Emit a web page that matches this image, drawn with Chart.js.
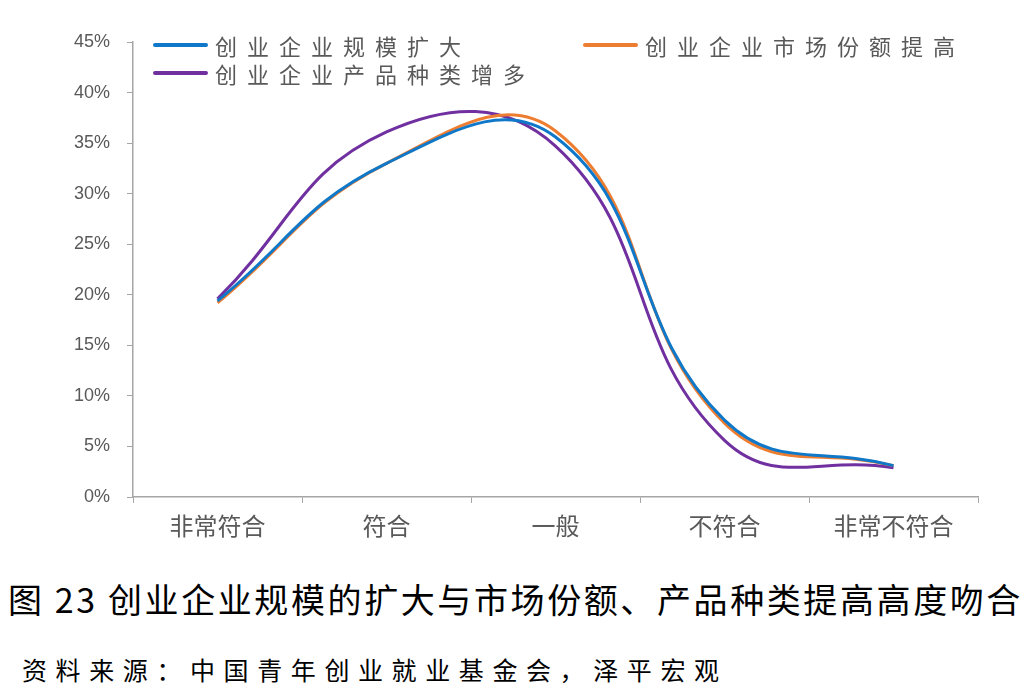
<!DOCTYPE html>
<html>
<head>
<meta charset="utf-8">
<script src="https://cdn.jsdelivr.net/npm/chart.js@4.4.1/dist/chart.umd.min.js"></script>
<style>
  body { margin: 0; background: #fff; width: 1028px; height: 700px; overflow: hidden; font-family: "Noto Sans CJK SC", sans-serif; }
  #wrap { position: absolute; left: 0; top: 0; width: 1028px; height: 560px; }
  .lg { position: absolute; height: 28px; display: flex; align-items: center; color: #595959; font-size: 22px; letter-spacing: 10px; white-space: nowrap; }
  .lg i { display: inline-block; width: 55px; height: 4px; margin-right: 7px; border-radius: 2px; }
  #title { position: absolute; left: 8px; top: 574px; font-size: 34px; color: #000; white-space: nowrap; letter-spacing: 2.6px; }
  #src { position: absolute; left: 22px; top: 651px; font-size: 25px; color: #000; white-space: nowrap; letter-spacing: 8.6px; }
</style>
</head>
<body>
<div id="wrap"><canvas id="c"></canvas></div>
<div id="legend"></div>
<div id="title">图 23 创业企业规模的扩大与市场份额、产品种类提高高度吻合</div>
<div id="src">资料来源：中国青年创业就业基金会，泽平宏观</div>
<script>
const categories = ['非常符合', '符合', '一般', '不符合', '非常不符合'];
const seriesNames = ['创业企业规模扩大', '创业企业市场份额提高', '创业企业产品种类增多'];
const scaleUp = [19.4, 33.0, 35.6, 7.6, 3.1];
const shareUp = [19.2, 33.0, 36.2, 7.3, 3.1];
const productUp = [19.6, 36.1, 34.7, 5.6, 2.9];
const yTicks = [0, 5, 10, 15, 20, 25, 30, 35, 40, 45];
const colors = ['#1078C8', '#ED7D31', '#7030A0'];

const gray = '#595959';
const axisGray = '#A6A6A6';

// legend overlay
const legendPos = [[153, 31], [583, 31], [153, 59]];
const legendBox = document.getElementById('legend');
seriesNames.forEach((name, i) => {
  const d = document.createElement('div');
  d.className = 'lg';
  d.style.left = legendPos[i][0] + 'px';
  d.style.top = legendPos[i][1] + 'px';
  d.innerHTML = `<i style="background:${colors[i]}"></i><span>${name}</span>`;
  legendBox.appendChild(d);
});

const ctx = document.getElementById('c').getContext('2d');
new Chart(ctx, {
  type: 'line',
  data: {
    labels: categories,
    datasets: [scaleUp, shareUp, productUp].map((vals, i) => ({
      label: seriesNames[i],
      data: vals,
      borderColor: colors[i],
      backgroundColor: colors[i],
      borderWidth: 3,
      pointRadius: 0,
      tension: 0.44,
      fill: false
    }))
  },
  options: {
    responsive: true,
    maintainAspectRatio: false,
    animation: false,
    layout: { padding: { top: 42, right: 50, left: 0, bottom: 0 } },
    plugins: { legend: { display: false }, tooltip: { enabled: false } },
    scales: {
      x: {
        offset: true,
        afterFit(s) { s.height = 63; },
        grid: { display: true, offset: true, drawOnChartArea: false, tickLength: 6, color: axisGray },
        border: { display: true, color: axisGray, width: 1.5 },
        ticks: { color: gray, font: { size: 24, family: '"Noto Sans CJK SC", sans-serif' }, padding: 8, maxRotation: 0 }
      },
      y: {
        min: 0,
        max: 45,
        afterFit(s) { s.width = 133; },
        afterBuildTicks(s) { s.ticks = yTicks.map(v => ({ value: v })); },
        grid: { display: true, drawOnChartArea: false, tickLength: 6, color: axisGray },
        border: { display: true, color: axisGray, width: 1.5 },
        ticks: { color: gray, font: { size: 18, family: 'Arial, "Liberation Sans", sans-serif' }, padding: 17, callback: v => v + '%' }
      }
    }
  }
});
</script>
</body>
</html>
